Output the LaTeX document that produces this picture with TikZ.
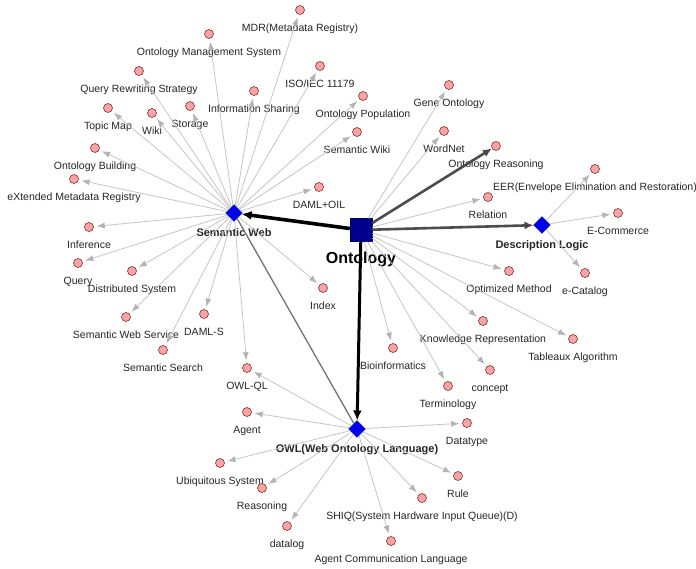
\documentclass[tikz,border=0pt]{standalone}
\usepackage{fontspec}
\setmainfont{Liberation Sans}
\usetikzlibrary{positioning, arrows.meta, shapes.geometric}

\definecolor{leaffill}{RGB}{244,166,166}
\definecolor{leafdraw}{RGB}{150,40,40}
\definecolor{hubblue}{RGB}{0,0,235}
\definecolor{rootblue}{RGB}{0,0,140}
\definecolor{thinline}{RGB}{198,198,198}
\definecolor{thintip}{RGB}{180,180,180}

\tikzset{
	leaf/.style={circle,draw=leafdraw,fill=leaffill,minimum size=9pt,inner sep=0pt,line width=0.6pt},
	lbl/.style={font=\fontsize{10.5pt}{12pt}\selectfont,inner sep=0.5pt,text height=8pt,text depth=2.5pt,
		text=black!85,label distance=8pt},
	hub/.style={diamond,fill=hubblue,draw=hubblue!70!black,minimum size=17pt,inner sep=0pt},
	hublbl/.style={font=\fontsize{11pt}{13pt}\selectfont\bfseries,inner sep=0.5pt,text height=8.5pt,text depth=2.5pt,
		text=black!85,label distance=6pt},
	weak/.style={draw=thinline,line width=0.8pt,shorten >=3pt,
		-{Latex[length=8pt,width=6pt,line width=0pt,color=thintip]}},
	strong/.style={draw=black,line width=3pt,-{Latex[length=10pt,width=9pt]}},
	heavy/.style={draw=black!70,line width=2.6pt,-{Latex[length=9pt,width=8pt]}},
}

\begin{document}
\begin{tikzpicture}[x=1pt,y=-1pt]
	\useasboundingbox[fill=white] (0,0) rectangle (696,569);

	% hubs
	\node (ont) at (361,230) [fill=rootblue,draw=rootblue!70!black,minimum width=22pt,minimum height=23pt,inner sep=0pt,
		label={[font=\fontsize{16pt}{18pt}\selectfont\bfseries,inner sep=0.5pt,text height=12pt,text depth=3.5pt,label distance=9pt]below:Ontology}] {};
	\node (semweb) at (234,213) [hub,label={[hublbl]below:Semantic Web}] {};
	\node (dl) at (542,225) [hub,label={[hublbl]below:Description Logic}] {};
	\node (owl) at (357,429) [hub,label={[hublbl]below:OWL(Web Ontology Language)}] {};

	% semantic web
	\node (mdr) at (300,10) [leaf,label={[lbl]below:MDR(Metadata Registry)}] {};
	\node (oms) at (209,34) [leaf,label={[lbl]below:Ontology Management System}] {};
	\node (qrs) at (139,71) [leaf,label={[lbl]below:Query Rewriting Strategy}] {};
	\node (topic) at (108,108) [leaf,label={[lbl]below:Topic Map}] {};
	\node (wiki) at (152,113) [leaf,label={[lbl]below:Wiki}] {};
	\node (storage) at (190,106) [leaf,label={[lbl]below:Storage}] {};
	\node (infosh) at (254,91) [leaf,label={[lbl]below:Information Sharing}] {};
	\node (iso) at (320,66) [leaf,label={[lbl]below:ISO/IEC 11179}] {};
	\node (ontpop) at (363,96) [leaf,label={[lbl]below:Ontology Population}] {};
	\node (semwiki) at (357,132) [leaf,label={[lbl]below:Semantic Wiki}] {};
	\node (ontbuild) at (95,148) [leaf,label={[lbl]below:Ontology Building}] {};
	\node (xmdr) at (74,179) [leaf,label={[lbl]below:eXtended Metadata Registry}] {};
	\node (damloil) at (319,187) [leaf,label={[lbl]below:DAML+OIL}] {};
	\node (inference) at (89,227) [leaf,label={[lbl]below:Inference}] {};
	\node (query) at (78,263) [leaf,label={[lbl]below:Query}] {};
	\node (distsys) at (132,271) [leaf,label={[lbl]below:Distributed System}] {};
	\node (sws) at (126,317) [leaf,label={[lbl]below:Semantic Web Service}] {};
	\node (damls) at (204,314) [leaf,label={[lbl]below:DAML-S}] {};
	\node (semsearch) at (163,350) [leaf,label={[lbl]below:Semantic Search}] {};
	\node (owlql) at (247,368) [leaf,label={[lbl]below:OWL-QL}] {};
	\node (index) at (323,288) [leaf,label={[lbl]below:Index}] {};

	% ontology
	\node (gene) at (449,85) [leaf,label={[lbl]below:Gene Ontology}] {};
	\node (wordnet) at (444,131) [leaf,label={[lbl]below:WordNet}] {};
	\node (ontreason) at (496,146) [leaf,label={[lbl]below:Ontology Reasoning}] {};
	\node (relation) at (488,197) [leaf,label={[lbl]below:Relation}] {};
	\node (optim) at (509,271) [leaf,label={[lbl]below:Optimized Method}] {};
	\node (knowrep) at (483,321) [leaf,label={[lbl]below:Knowledge Representation}] {};
	\node (tableaux) at (573,339) [leaf,label={[lbl]below:Tableaux Algorithm}] {};
	\node (bioinf) at (393,348) [leaf,label={[lbl]below:Bioinformatics}] {};
	\node (concept) at (490,370) [leaf,label={[lbl]below:concept}] {};
	\node (termin) at (448,386) [leaf,label={[lbl]below:Terminology}] {};

	% description logic
	\node (eer) at (595,169) [leaf,label={[lbl]below:EER(Envelope Elimination and Restoration)}] {};
	\node (ecom) at (618,213) [leaf,label={[lbl]below:E-Commerce}] {};
	\node (ecat) at (585,273) [leaf,label={[lbl]below:e-Catalog}] {};

	% owl
	\node (agent) at (247,412) [leaf,label={[lbl]below:Agent}] {};
	\node (datatype) at (467,423) [leaf,label={[lbl]below:Datatype}] {};
	\node (ubiq) at (220,463) [leaf,label={[lbl]below:Ubiquitous System}] {};
	\node (reasoning) at (262,488) [leaf,label={[lbl]below:Reasoning}] {};
	\node (rule) at (458,476) [leaf,label={[lbl]below:Rule}] {};
	\node (datalog) at (287,526) [leaf,label={[lbl]below:datalog}] {};
	\node (shiq) at (422,498) [leaf,label={[lbl]below:SHIQ(System Hardware Input Queue)(D)}] {};
	\node (acl) at (391,541) [leaf,label={[lbl]below:Agent Communication Language}] {};

	\path[weak] (semweb) edge (mdr);
	\path[weak] (semweb) edge (oms);
	\path[weak] (semweb) edge (qrs);
	\path[weak] (semweb) edge (topic);
	\path[weak] (semweb) edge (wiki);
	\path[weak] (semweb) edge (storage);
	\path[weak] (semweb) edge (infosh);
	\path[weak] (semweb) edge (iso);
	\path[weak] (semweb) edge (ontpop);
	\path[weak] (semweb) edge (semwiki);
	\path[weak] (semweb) edge (ontbuild);
	\path[weak] (semweb) edge (xmdr);
	\path[weak] (semweb) edge (damloil);
	\path[weak] (semweb) edge (inference);
	\path[weak] (semweb) edge (query);
	\path[weak] (semweb) edge (distsys);
	\path[weak] (semweb) edge (sws);
	\path[weak] (semweb) edge (damls);
	\path[weak] (semweb) edge (semsearch);
	\path[weak] (semweb) edge (owlql);
	\path[weak] (semweb) edge (index);

	\path[weak] (ont) edge (gene);
	\path[weak] (ont) edge (wordnet);
	\path[weak] (ont) edge (relation);
	\path[weak] (ont) edge (optim);
	\path[weak] (ont) edge (knowrep);
	\path[weak] (ont) edge (tableaux);
	\path[weak] (ont) edge (bioinf);
	\path[weak] (ont) edge (concept);
	\path[weak] (ont) edge (termin);

	\path[weak] (dl) edge (eer);
	\path[weak] (dl) edge (ecom);
	\path[weak] (dl) edge (ecat);

	\path[weak] (owl) edge (agent);
	\path[weak] (owl) edge (datatype);
	\path[weak] (owl) edge (ubiq);
	\path[weak] (owl) edge (reasoning);
	\path[weak] (owl) edge (rule);
	\path[weak] (owl) edge (datalog);
	\path[weak] (owl) edge (shiq);
	\path[weak] (owl) edge (acl);
	\path[weak] (owl) edge (owlql);

	\path[draw=black!55,line width=1.3pt] (semweb) edge (owl);
	\path[strong,line width=3.6pt] (ont) edge (semweb);
	\path[strong] (ont) edge (owl);
	\path[heavy] (ont) edge (dl);
	\path[heavy] (ont) edge (ontreason);
\end{tikzpicture}
\end{document}
